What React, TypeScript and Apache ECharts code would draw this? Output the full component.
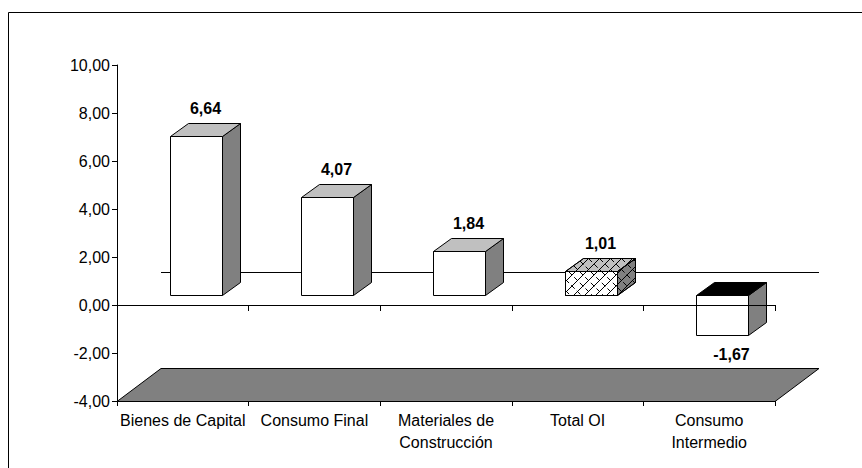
import React, { useEffect, useRef } from "react";
import * as echarts from "echarts";

// ---- data ----
const categories: string[] = [
  "Bienes de Capital",
  "Consumo Final",
  "Materiales de\nConstrucción",
  "Total OI",
  "Consumo\nIntermedio",
];
const values: number[] = [6.64, 4.07, 1.84, 1.01, -1.67];
const yMin = -4;
const yMax = 10;
const yStep = 2;
const hatchedCategory = "Total OI";

// ---- styling / geometry (not data) ----
const FONT = "'Liberation Sans', Arial, sans-serif";
const BAR_RATIO = 0.395;
const FRONT_DX = 13;
const FRONT_DY = -10;
const DEPTH_DX = 18;
const DEPTH_DY = -13;
const FLOOR_DX = 44;
const FLOOR_DY = -33;
const LABEL_GAP_POS = 15;
const LABEL_GAP_NEG = 19;
const HATCH = 11;

const fmt = (v: number) => v.toFixed(2).replace(".", ",");
const r = (n: number) => Math.round(n) + 0.5;

type P = [number, number];

function clipSeg(p0: P, p1: P, poly: P[]): [P, P] | null {
  let t0 = 0;
  let t1 = 1;
  const d: P = [p1[0] - p0[0], p1[1] - p0[1]];
  const cx = poly.reduce((s, p) => s + p[0], 0) / poly.length;
  const cy = poly.reduce((s, p) => s + p[1], 0) / poly.length;
  for (let i = 0; i < poly.length; i++) {
    const a = poly[i];
    const b = poly[(i + 1) % poly.length];
    let n: P = [-(b[1] - a[1]), b[0] - a[0]];
    if (n[0] * (cx - a[0]) + n[1] * (cy - a[1]) < 0) n = [-n[0], -n[1]];
    const num = n[0] * (p0[0] - a[0]) + n[1] * (p0[1] - a[1]);
    const den = n[0] * d[0] + n[1] * d[1];
    if (Math.abs(den) < 1e-9) {
      if (num < 0) return null;
    } else if (den > 0) {
      t0 = Math.max(t0, -num / den);
    } else {
      t1 = Math.min(t1, -num / den);
    }
  }
  if (t0 >= t1) return null;
  return [
    [p0[0] + t0 * d[0], p0[1] + t0 * d[1]],
    [p0[0] + t1 * d[0], p0[1] + t1 * d[1]],
  ];
}

function hatchLines(poly: P[]): any[] {
  const xs = poly.map((p) => p[0]);
  const ys = poly.map((p) => p[1]);
  const minx = Math.min(...xs), maxx = Math.max(...xs);
  const miny = Math.min(...ys), maxy = Math.max(...ys);
  const out: any[] = [];
  // "/" lines: x + y = c
  const c0 = Math.floor((minx + miny) / HATCH) * HATCH;
  for (let c = c0; c <= maxx + maxy; c += HATCH) {
    const seg = clipSeg([c - maxy, maxy], [c - miny, miny], poly);
    if (seg)
      out.push({
        type: "line",
        shape: { x1: seg[0][0], y1: seg[0][1], x2: seg[1][0], y2: seg[1][1] },
        style: { stroke: "#000", lineWidth: 1 },
      });
  }
  // "\" short segments: x - y = c
  const c1 = Math.floor((minx - maxy) / HATCH) * HATCH;
  for (let c = c1; c <= maxx - miny; c += HATCH) {
    const seg = clipSeg([c + miny, miny], [c + maxy, maxy], poly);
    if (seg)
      out.push({
        type: "line",
        shape: { x1: seg[0][0], y1: seg[0][1], x2: seg[1][0], y2: seg[1][1] },
        style: { stroke: "#000", lineWidth: 1, lineDash: [5, 3] },
      });
  }
  return out;
}

export default function App() {
  const ref = useRef<HTMLDivElement>(null);

  useEffect(() => {
    if (!ref.current) return;
    const chart = echarts.init(ref.current, undefined, { renderer: "svg" });

    const option: any = {
      animation: false,
      backgroundColor: "#fff",
      textStyle: { fontFamily: FONT },
      grid: { left: 117, right: 87, top: 65, bottom: 67, containLabel: false },
      graphic: [
        {
          type: "rect",
          silent: true,
          z: 100,
          shape: { x: 8.5, y: 12.5, width: 1000, height: 1000 },
          style: { fill: "none", stroke: "#000", lineWidth: 1 },
        },
      ],
      xAxis: [
        {
          type: "category",
          data: categories,
          position: "bottom",
          z: 10,
          axisLine: { show: true, onZero: true, lineStyle: { color: "#000", width: 1 } },
          axisTick: { show: true, length: 6, lineStyle: { color: "#000" } },
          axisLabel: { show: false },
          splitLine: { show: false },
        },
        {
          type: "category",
          data: categories,
          position: "bottom",
          z: 10,
          axisLine: { show: true, onZero: false, lineStyle: { color: "#000", width: 1 } },
          axisTick: { show: true, length: 5, lineStyle: { color: "#000" } },
          axisLabel: {
            show: true,
            interval: 0,
            margin: 8,
            color: "#000",
            fontSize: 16,
            lineHeight: 22,
            fontFamily: FONT,
            align: "center",
          },
          splitLine: { show: false },
        },
      ],
      yAxis: {
        type: "value",
        min: yMin,
        max: yMax,
        interval: yStep,
        z: 10,
        axisLine: { show: true, lineStyle: { color: "#000", width: 1 } },
        axisTick: { show: true, length: 5, lineStyle: { color: "#000" } },
        axisLabel: {
          margin: 7,
          color: "#000",
          fontSize: 16,
          fontFamily: FONT,
          formatter: (v: number) => fmt(v),
        },
        splitLine: { show: false },
      },
      series: [
        {
          type: "custom",
          silent: true,
          z: 1,
          xAxisIndex: 0,
          data: [[0, yMin]],
          renderItem: (params: any, api: any) => {
            const cs = params.coordSys;
            const yFloor = api.coord([0, yMin])[1];
            const yZero = api.coord([0, 0])[1];
            const xl = cs.x;
            const xr = cs.x + cs.width;
            return {
              type: "group",
              children: [
                {
                  type: "polygon",
                  shape: {
                    points: [
                      [xl, r(yFloor)],
                      [xl + FLOOR_DX, r(yFloor + FLOOR_DY)],
                      [xr + FLOOR_DX, r(yFloor + FLOOR_DY)],
                      [xr, r(yFloor)],
                    ],
                  },
                  style: { fill: "#808080", stroke: "#000", lineWidth: 1 },
                },
                {
                  type: "line",
                  shape: {
                    x1: xl + FLOOR_DX,
                    y1: r(yZero + FLOOR_DY),
                    x2: xr + FLOOR_DX,
                    y2: r(yZero + FLOOR_DY),
                  },
                  style: { stroke: "#000", lineWidth: 1 },
                },
              ],
            };
          },
        },
        {
          type: "custom",
          silent: true,
          z: 2,
          xAxisIndex: 0,
          data: values.map((v, i) => [i, v]),
          encode: { x: 0, y: 1 },
          renderItem: (params: any, api: any) => {
            const idx = api.value(0) as number;
            const v = api.value(1) as number;
            const base = api.coord([idx, 0]);
            const tip = api.coord([idx, v]);
            const catW = api.size([1, 0])[0];
            const bw = catW * BAR_RATIO;
            const x0 = r(base[0] - bw / 2 + FRONT_DX);
            const x1 = r(base[0] + bw / 2 + FRONT_DX);
            const yTop = r(Math.min(base[1], tip[1]) + FRONT_DY);
            const yBot = r(Math.max(base[1], tip[1]) + FRONT_DY);
            const front: P[] = [[x0, yTop], [x1, yTop], [x1, yBot], [x0, yBot]];
            const topFace: P[] = [
              [x0, yTop],
              [x0 + DEPTH_DX, yTop + DEPTH_DY],
              [x1 + DEPTH_DX, yTop + DEPTH_DY],
              [x1, yTop],
            ];
            const side: P[] = [
              [x1, yTop],
              [x1 + DEPTH_DX, yTop + DEPTH_DY],
              [x1 + DEPTH_DX, yBot + DEPTH_DY],
              [x1, yBot],
            ];
            const neg = v < 0;
            const hatched = categories[idx] === hatchedCategory;
            const edge = { stroke: "#000", lineWidth: 1 };
            const children: any[] = [];
            children.push({ type: "polygon", shape: { points: side }, style: { fill: "#808080", ...edge } });
            children.push({
              type: "polygon",
              shape: { points: topFace },
              style: { fill: neg ? "#000" : "#c0c0c0", ...edge },
            });
            children.push({ type: "polygon", shape: { points: front }, style: { fill: "#fff", ...edge } });
            if (hatched) {
              children.push(...hatchLines(side), ...hatchLines(topFace), ...hatchLines(front));
              children.push({ type: "polygon", shape: { points: side }, style: { fill: "none", ...edge } });
              children.push({ type: "polygon", shape: { points: topFace }, style: { fill: "none", ...edge } });
              children.push({ type: "polygon", shape: { points: front }, style: { fill: "none", ...edge } });
            }
            const lx = (x0 + x1) / 2 + DEPTH_DX / 2;
            const ly = neg ? yBot + LABEL_GAP_NEG : yTop + DEPTH_DY - LABEL_GAP_POS;
            children.push({
              type: "text",
              style: {
                text: fmt(v),
                x: lx,
                y: ly,
                align: "center",
                verticalAlign: "middle",
                fill: "#000",
                font: `bold 16px ${FONT}`,
              },
            });
            return { type: "group", children };
          },
        },
      ],
    };

    chart.setOption(option);
    return () => chart.dispose();
  }, []);

  return (
    <div
      ref={ref}
      style={{ position: "fixed", left: 0, top: 0, width: 862, height: 468, background: "#fff" }}
    />
  );
}
